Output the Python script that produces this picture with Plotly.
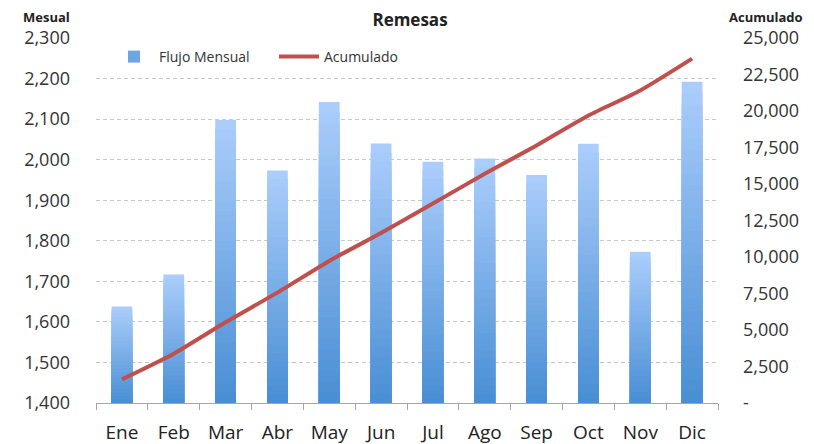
import plotly.graph_objects as go

categories = ["Ene", "Feb", "Mar", "Abr", "May", "Jun", "Jul", "Ago", "Sep", "Oct", "Nov", "Dic"]
flujo_mensual = [1638, 1717, 2098, 1973, 2142, 2040, 1995, 2003, 1962, 2039, 1773, 2192]
acumulado = [1620, 3380, 5530, 7560, 9730, 11640, 13660, 15700, 17640, 19690, 21410, 23590]
left_ticks = [1400, 1500, 1600, 1700, 1800, 1900, 2000, 2100, 2200, 2300]
right_ticks = [0, 2500, 5000, 7500, 10000, 12500, 15000, 17500, 20000, 22500, 25000]
right_text = ["-", "2,500", "5,000", "7,500", "10,000", "12,500", "15,000", "17,500", "20,000", "22,500", "25,000"]

BASE = 1400
TOP_RGB = (170, 205, 251)
BOT_RGB = (74, 143, 212)
N = 28

# the page body has an 8px default margin, so the figure is sized to fit the window
W, H = 806, 436
L, R, T, B = 88, 96, 30, 41
PW, PH = W - L - R, H - T - B

fig = go.Figure()

# stepped vertical gradient: overlay bars of decreasing height, darker toward the bottom
for k in range(N):
    f = 1 - k / N
    t = k / (N - 1)
    col = tuple(round(TOP_RGB[i] + (BOT_RGB[i] - TOP_RGB[i]) * t) for i in range(3))
    fig.add_trace(go.Bar(
        x=categories,
        y=[(v - BASE) * f for v in flujo_mensual],
        base=BASE,
        marker=dict(color="rgb(%d,%d,%d)" % col, line=dict(width=0)),
        opacity=1,
        name="Flujo Mensual",
        legendgroup="flujo",
        showlegend=False,
        hoverinfo="skip",
        yaxis="y",
    ))

# legend entry for bars
fig.add_trace(go.Bar(
    x=[None], y=[None], name="Flujo Mensual",
    marker=dict(color="rgb(110,165,228)"), legendgroup="flujo", showlegend=True,
))

fig.add_trace(go.Scatter(
    x=categories, y=acumulado, name="Acumulado", mode="lines",
    line=dict(color="#c0504d", width=4, shape="spline", smoothing=0.6),
    yaxis="y2",
))

font_family = "Open Sans, Lato, Liberation Sans, sans-serif"

fig.update_layout(
    template="none",
    width=W, height=H,
    margin=dict(l=L, r=R, t=T, b=B, autoexpand=False),
    paper_bgcolor="white", plot_bgcolor="white",
    barmode="overlay", bargap=0.6,
    font=dict(family=font_family, color="#333333"),
    title=dict(text="<b>Remesas</b>", x=(410 - 8) / W, xanchor="center", y=1 - 12 / H, yanchor="middle",
               yref="container", font=dict(size=17, color="#222222", family=font_family)),
    xaxis=dict(
        type="category", range=[-0.5, 11.5], automargin=False,
        showline=True, linecolor="#a6a6a6", linewidth=1,
        ticks="outside", ticklen=6, tickcolor="#a6a6a6", tickson="boundaries",
        ticklabelstandoff=12,
        tickfont=dict(size=19, color="#222222"), showgrid=False,
    ),
    yaxis=dict(
        range=[1400, 2300], tickvals=left_ticks, tickformat=",", automargin=False,
        showgrid=True, gridcolor="#c8c8c8", griddash="4px,3px", gridwidth=1,
        zeroline=False, showline=False, ticks="", ticklabelstandoff=25,
        tickfont=dict(size=18, color="#333333"),
    ),
    yaxis2=dict(
        overlaying="y", side="right", range=[0, 25000], automargin=False,
        tickvals=right_ticks, ticktext=right_text,
        showgrid=False, zeroline=False, showline=False, ticks="", ticklabelstandoff=24,
        tickfont=dict(size=18, color="#333333"),
    ),
    legend=dict(
        orientation="h", x=(109 - 96) / PW, xanchor="left", y=(403 - 57) / PH, yanchor="middle",
        bgcolor="rgba(0,0,0,0)", font=dict(size=14, color="#333333"),
        itemwidth=40, entrywidth=110, entrywidthmode="pixels", traceorder="normal",
    ),
    annotations=[
        dict(text="<b>Mesual</b>", xref="paper", yref="paper", x=(21 - 96) / PW, xanchor="left",
             y=(403 - 17) / PH, yanchor="middle", showarrow=False,
             font=dict(size=13, color="#222222")),
        dict(text="<b>Acumulado</b>", xref="paper", yref="paper", x=(805 - 96) / PW, xanchor="right",
             y=(403 - 17) / PH, yanchor="middle", showarrow=False,
             font=dict(size=13, color="#222222")),
    ],
)

fig.write_html("out.html")
